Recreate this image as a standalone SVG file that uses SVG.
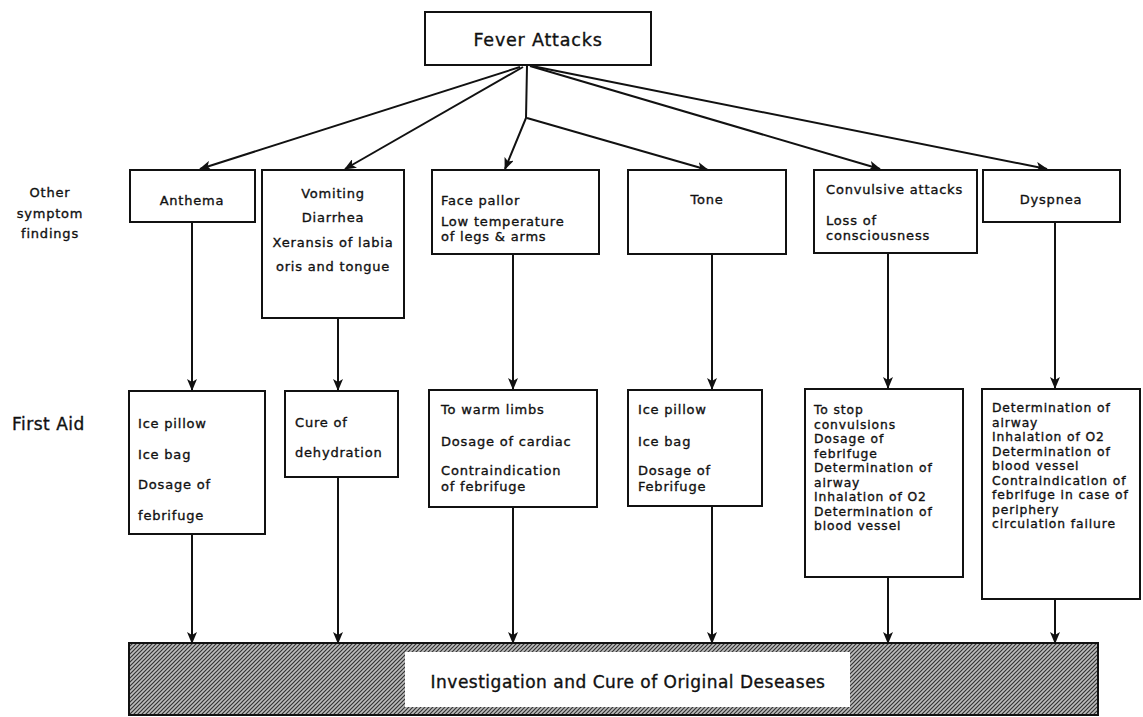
<svg xmlns="http://www.w3.org/2000/svg" width="1143" height="717" viewBox="0 0 1143 717">
<style>
.box{fill:#fff;stroke:#111;stroke-width:2}
.t{font-family:"DejaVu Sans","Liberation Sans",Arial,sans-serif;font-size:13px;fill:#111;stroke:#111;stroke-width:0.35;letter-spacing:0.8px}
.d{font-size:12.3px;letter-spacing:0.9px}
.c{text-anchor:middle}
.ln{stroke:#111;stroke-width:2;fill:none}
</style>
<defs>
<marker id="ah" viewBox="0 0 12 10" refX="11" refY="5" markerWidth="12" markerHeight="10" markerUnits="userSpaceOnUse" orient="auto">
<path d="M0,0 L12,5 L0,10 L3,5 Z" fill="#111"/>
</marker>
<pattern id="hatch" width="4" height="4" patternUnits="userSpaceOnUse">
<rect width="4" height="4" fill="#bdbdbd"/>
<path d="M-1,1 L1,-1 M0,4 L4,0 M3,5 L5,3" stroke="#333" stroke-width="1.2"/>
</pattern>
</defs>
<rect width="1143" height="717" fill="#fff"/>

<g id="connectors">
<line class="ln" x1="520" y1="67" x2="200" y2="169" marker-end="url(#ah)"/>
<line class="ln" x1="523" y1="67" x2="345" y2="169" marker-end="url(#ah)"/>
<polyline class="ln" points="527,66 526,118 505,169" marker-end="url(#ah)"/>
<line class="ln" x1="527" y1="118" x2="708" y2="170" marker-end="url(#ah)"/>
<line class="ln" x1="530" y1="66" x2="880" y2="169" marker-end="url(#ah)"/>
<line class="ln" x1="532" y1="66" x2="1047" y2="169" marker-end="url(#ah)"/>
<line class="ln" x1="192" y1="222" x2="192" y2="390" marker-end="url(#ah)"/>
<line class="ln" x1="338" y1="318" x2="338" y2="390" marker-end="url(#ah)"/>
<line class="ln" x1="513" y1="254" x2="513" y2="389" marker-end="url(#ah)"/>
<line class="ln" x1="712" y1="254" x2="712" y2="389" marker-end="url(#ah)"/>
<line class="ln" x1="888" y1="253" x2="888" y2="388" marker-end="url(#ah)"/>
<line class="ln" x1="1055" y1="222" x2="1055" y2="388" marker-end="url(#ah)"/>
<line class="ln" x1="192" y1="534" x2="192" y2="643" marker-end="url(#ah)"/>
<line class="ln" x1="338" y1="477" x2="338" y2="643" marker-end="url(#ah)"/>
<line class="ln" x1="513" y1="507" x2="513" y2="643" marker-end="url(#ah)"/>
<line class="ln" x1="712" y1="506" x2="712" y2="643" marker-end="url(#ah)"/>
<line class="ln" x1="888" y1="577" x2="888" y2="643" marker-end="url(#ah)"/>
<line class="ln" x1="1055" y1="599" x2="1055" y2="643" marker-end="url(#ah)"/>
</g>

<g id="fever">
<rect class="box" x="425" y="12" width="226" height="53"/>
<text class="t c" x="538" y="46" style="font-size:17.5px">Fever Attacks</text>
</g>

<g id="labels">
<text class="t c" x="50" y="197">Other</text>
<text class="t c" x="50" y="218">symptom</text>
<text class="t c" x="50" y="238">findings</text>
<text class="t" x="12" y="430" style="font-size:17px;letter-spacing:0.5px">First Aid</text>
</g>

<g id="anthema">
<rect class="box" x="130" y="170" width="125" height="52"/>
<text class="t c" x="192" y="205">Anthema</text>
</g>
<g id="vomiting">
<rect class="box" x="262" y="170" width="142" height="148"/>
<text class="t c" x="333" y="198">Vomiting</text>
<text class="t c" x="333" y="222">Diarrhea</text>
<text class="t c" x="333" y="247">Xeransis of labia</text>
<text class="t c" x="333" y="271">oris and tongue</text>
</g>
<g id="face">
<rect class="box" x="432" y="170" width="167" height="84"/>
<text class="t" x="441" y="205">Face pallor</text>
<text class="t" x="441" y="226">Low temperature</text>
<text class="t" x="441" y="241">of legs &amp; arms</text>
</g>
<g id="tone">
<rect class="box" x="628" y="170" width="158" height="84"/>
<text class="t c" x="707" y="204">Tone</text>
</g>
<g id="convulsive">
<rect class="box" x="814" y="170" width="163" height="83"/>
<text class="t" x="826" y="194">Convulsive attacks</text>
<text class="t" x="826" y="225">Loss of</text>
<text class="t" x="826" y="240">consciousness</text>
</g>
<g id="dyspnea">
<rect class="box" x="983" y="170" width="137" height="52"/>
<text class="t c" x="1051" y="204">Dyspnea</text>
</g>

<g id="fa-anthema">
<rect class="box" x="129" y="391" width="136" height="143"/>
<text class="t" x="138" y="428">Ice pillow</text>
<text class="t" x="138" y="459">Ice bag</text>
<text class="t" x="138" y="489">Dosage of</text>
<text class="t" x="138" y="520">febrifuge</text>
</g>
<g id="fa-vomiting">
<rect class="box" x="285" y="391" width="113" height="86"/>
<text class="t" x="295" y="427">Cure of</text>
<text class="t" x="295" y="457">dehydration</text>
</g>
<g id="fa-face">
<rect class="box" x="429" y="390" width="168" height="117"/>
<text class="t" x="441" y="414">To warm limbs</text>
<text class="t" x="441" y="446">Dosage of cardiac</text>
<text class="t" x="441" y="475">Contraindication</text>
<text class="t" x="441" y="491">of febrifuge</text>
</g>
<g id="fa-tone">
<rect class="box" x="628" y="390" width="134" height="116"/>
<text class="t" x="638" y="414">Ice pillow</text>
<text class="t" x="638" y="446">Ice bag</text>
<text class="t" x="638" y="475">Dosage of</text>
<text class="t" x="638" y="491">Febrifuge</text>
</g>
<g id="fa-convulsive">
<rect class="box" x="805" y="389" width="158" height="188"/>
<text class="t d" x="814" y="414">To stop</text>
<text class="t d" x="814" y="428.5">convulsions</text>
<text class="t d" x="814" y="443">Dosage of</text>
<text class="t d" x="814" y="457.5">febrifuge</text>
<text class="t d" x="814" y="472">Determination of</text>
<text class="t d" x="814" y="486.5">airway</text>
<text class="t d" x="814" y="501">Inhalation of O2</text>
<text class="t d" x="814" y="515.5">Determination of</text>
<text class="t d" x="814" y="530">blood vessel</text>
</g>
<g id="fa-dyspnea">
<rect class="box" x="982" y="389" width="158" height="210"/>
<text class="t d" x="992" y="412">Determination of</text>
<text class="t d" x="992" y="426.5">airway</text>
<text class="t d" x="992" y="441">Inhalation of O2</text>
<text class="t d" x="992" y="455.5">Determination of</text>
<text class="t d" x="992" y="470">blood vessel</text>
<text class="t d" x="992" y="484.5">Contraindication of</text>
<text class="t d" x="992" y="499">febrifuge in case of</text>
<text class="t d" x="992" y="513.5">periphery</text>
<text class="t d" x="992" y="528">circulation failure</text>
</g>

<g id="investigation">
<rect x="129" y="643" width="969" height="72" fill="url(#hatch)" stroke="#111" stroke-width="2"/>
<rect x="405" y="652" width="445" height="55" fill="#fff"/>
<text class="t c" x="628" y="688" style="font-size:17px;letter-spacing:0.5px">Investigation and Cure of Original Deseases</text>
</g>
</svg>
